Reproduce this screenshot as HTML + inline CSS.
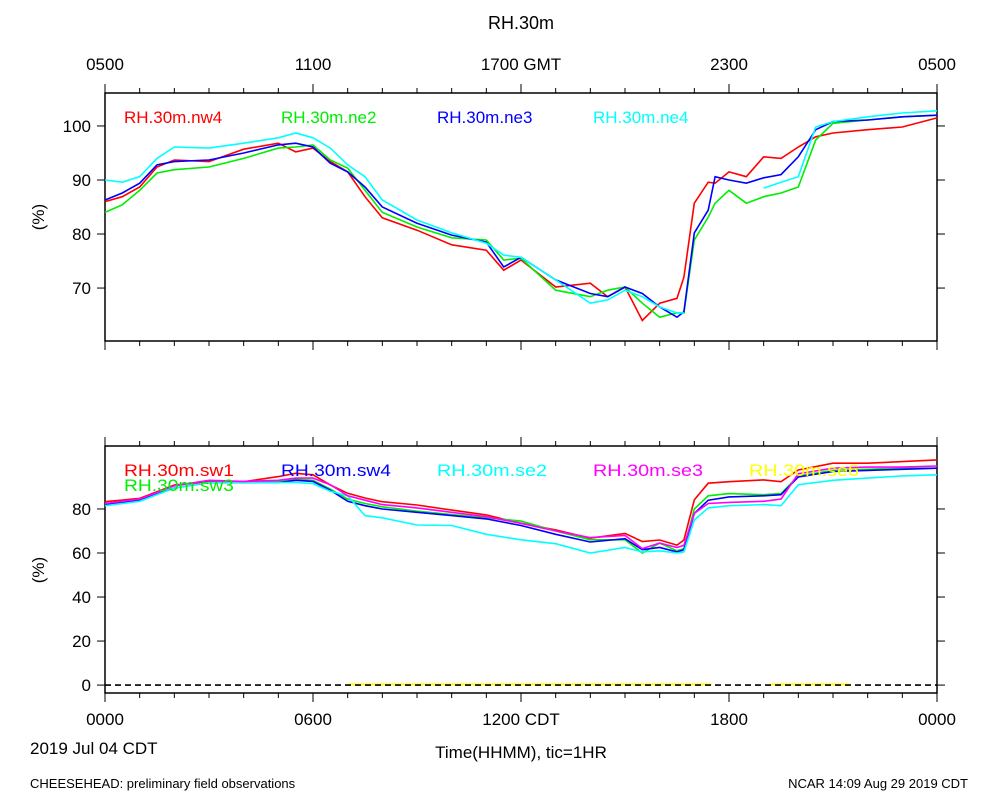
<!DOCTYPE html>
<html><head><meta charset="utf-8"><style>
body{margin:0;background:#fff}
svg{display:block;font-family:"Liberation Sans",sans-serif}
</style></head><body>
<svg id="c" width="1000" height="800" viewBox="0 0 1000 800">
<text x="521" y="29" font-size="18" text-anchor="middle">RH.30m</text>
<text x="44" y="217" font-size="17" text-anchor="middle" transform="rotate(-90 44 217)">(%)</text>
<text x="44" y="570" font-size="17" text-anchor="middle" transform="rotate(-90 44 570)">(%)</text>
<text x="30" y="754" font-size="17">2019 Jul 04 CDT</text>
<text x="521" y="758" font-size="17" text-anchor="middle">Time(HHMM), tic=1HR</text>
<text x="30" y="788" font-size="13">CHEESEHEAD: preliminary field observations</text>
<text x="968" y="788" font-size="13" text-anchor="end">NCAR 14:09 Aug 29 2019 CDT</text>
</svg>
<script>
const topHours=[0,0.5,1,1.5,2,3,4,5,5.5,6,6.5,7,7.5,8,9,10,11,11.5,12,13,14,14.5,15,15.5,16,16.5,16.7,17,17.4,17.6,18,18.5,19,19.5,20,20.5,21,22,23,24];
const nw4=[86,86.9,88.7,92.4,93.7,93.4,95.7,96.8,95.2,95.9,93.4,91.5,86.9,83,80.7,78,77,73.3,75.2,70.2,70.9,68.4,70.2,64,67.2,68.1,72,85.7,89.6,89.4,91.5,90.6,94.3,94,96.1,98,98.7,99.3,99.8,101.5];
const ne2=[84,85.4,88.1,91.3,91.9,92.4,94,95.9,96.1,96.5,93.7,92.2,88.1,84,81.3,79.3,78.9,75.2,75.5,69.6,68.4,69.6,70.2,67.2,64.6,65.4,65.4,78.9,83.1,85.7,88.1,85.7,86.9,87.6,88.7,97.4,100.5,101.1,101.7,102];
const ne3=[86.3,87.6,89.4,92.8,93.4,93.7,95,96.5,96.8,96.1,93.1,91.5,88.7,85,82,79.8,78.5,73.9,75.7,71.5,69,68.4,70.2,69,66.5,64.6,65.6,80.2,84.4,90.6,90,89.4,90.4,91,94.3,99.3,100.8,101.1,101.7,102];
const ne4=[90,89.6,90.6,94,96.1,95.9,96.8,97.8,98.7,97.8,95.9,92.8,90.6,86.3,82.6,80.2,78.3,76.1,75.7,71.5,67.2,67.8,69.6,68.4,66.5,65.4,65.4,null,null,null,null,null,88.5,89.6,90.6,99.8,100.8,101.7,102.4,102.8];
const topNames=["RH.30m.nw4","RH.30m.ne2","RH.30m.ne3","RH.30m.ne4"];
const topTicks=[70,80,90,100];
const botHours=[0,1,2,3,4,5,5.5,6,6.5,7,7.5,8,9,10,11,12,13,14,15,15.5,16,16.5,16.7,17,17.4,18,19,19.5,20,21,22,23,24];
const sw1=[83.3,84.8,90.9,92.4,92.4,94.7,96.2,95.5,90.9,87.1,85,83.3,81.8,79.5,77.3,73.5,70.5,66.7,68.9,65.2,65.9,63.6,65.9,84.1,91.7,92.4,93.2,92.4,97.7,100.8,100.8,101.5,102.3];
const sw3=[82,84,89.5,92,92,92.5,93.5,93,89,84.5,82.5,81,79,77.5,76,74.5,70,66,66,60,64.5,61,62,80,86,87,86.5,87,95,97.5,98,98.5,98.5];
const sw4=[82,84,89.5,92,92,92,93,92.5,88.5,83.5,81.5,80,78.5,77,75.5,72.5,68.5,65,66.5,61.5,62.5,60.5,61.5,78,84,85.5,86,86.5,94.5,97,97.5,98,98.5];
const se2=[81.5,83.5,89.5,92,92,92,92,91.5,88,86,77,76,72.7,72.5,68.5,66,64.2,60,62.5,60.5,61,60,60.5,75,80.5,81.5,82,81.5,91,93,94,95,95.5];
const se3=[82.5,84.5,90.5,93,92.5,93,94,94,91,86,84,82,80.5,78.5,76.5,73.5,70,67,68,62,64.5,62.5,63.5,78,82.5,83,83.5,84.5,96,98.5,99,99,99.5];
const se6Hours=[7,17.5,null,19.2,21.5];
const se6=[0.3,0.3,null,0.3,0.3];
const botNames=["RH.30m.sw1","RH.30m.sw3","RH.30m.sw4","RH.30m.se2","RH.30m.se3","RH.30m.se6"];
const botTicks=[0,20,40,60,80];
const bottomLabels=["0000","0600","1200 CDT","1800","0000"];
const topLabels=["0500","1100","1700 GMT","2300","0500"];

const NS="http://www.w3.org/2000/svg";
const svg=document.getElementById('c');
const L=105,R=937;
const xs=h=>L+(R-L)*h/24;
const P1={top:93,bot:341,min:60.2,max:106.1};
const P2={top:446,bot:693,min:-3.6,max:108.6};
const ys=(p,v)=>p.bot-(v-p.min)/(p.max-p.min)*(p.bot-p.top);
function mk(tag,attrs,parent){const e=document.createElementNS(NS,tag);for(const k in attrs)e.setAttribute(k,attrs[k]);(parent||svg).appendChild(e);return e;}
function path(p,hours,vals){let d="",pen=false;for(let i=0;i<hours.length;i++){if(vals[i]==null||hours[i]==null){pen=false;continue;}d+=(pen?"L":"M")+xs(hours[i]).toFixed(1)+" "+ys(p,vals[i]).toFixed(1);pen=true;}return d;}
function frame(p,ticks,nm){
  const g=mk('g',{});
  
  
  mk('rect',{x:L,y:p.top,width:R-L,height:p.bot-p.top,fill:'none',stroke:'#000','stroke-width':1.5},g);
  for(let h=0;h<=24;h++){const x=xs(h),len=h%6==0?9:5;
    mk('line',{x1:x,y1:p.top,x2:x,y2:p.top-len,stroke:'#000'},g);
    mk('line',{x1:x,y1:p.bot,x2:x,y2:p.bot+len,stroke:'#000'},g);}
  ticks.forEach(v=>{const y=ys(p,v);
    mk('line',{x1:L,y1:y,x2:L-8,y2:y,stroke:'#000'},g);
    mk('line',{x1:R,y1:y,x2:R+8,y2:y,stroke:'#000'},g);
    const t=mk('text',{x:L-14,y:y+6,'font-size':17,'text-anchor':'end'},g);t.textContent=v;
    
    });
}
frame(P1,topTicks,'top-panel');
frame(P2,botTicks,'bottom-panel');
topLabels.forEach((s,i)=>{const t=mk('text',{x:xs(i*6),y:70,'font-size':17,'text-anchor':'middle'});t.textContent=s;
  
  });
bottomLabels.forEach((s,i)=>{const t=mk('text',{x:xs(i*6),y:725,'font-size':17,'text-anchor':'middle'});t.textContent=s;
  
  });

const topSeries=[[nw4,'#ff0000'],[ne2,'#00ee00'],[ne3,'#0000ff'],[ne4,'#00ffff']];
const topLegX=[124,281,437,593];
topSeries.forEach((s,i)=>{const e=mk('path',{d:path(P1,topHours,s[0]),fill:'none',stroke:s[1],'stroke-width':1.6});
  
  
  const t=mk('text',{x:topLegX[i],y:123,'font-size':17,fill:s[1]});t.textContent=topNames[i];
  
  });

const y6=mk('path',{d:path(P2,se6Hours,se6),fill:'none',stroke:'#ffff00','stroke-width':2});


const z=mk('line',{x1:L,y1:ys(P2,0),x2:R,y2:ys(P2,0),stroke:'#000','stroke-width':1.6,'stroke-dasharray':'6 4'});


const botSeries=[[sw1,'#ff0000'],[sw3,'#00ee00'],[sw4,'#0000ff'],[se2,'#00ffff'],[se3,'#ff00ff']];
botSeries.forEach((s,i)=>{const e=mk('path',{d:path(P2,botHours,s[0]),fill:'none',stroke:s[1],'stroke-width':1.6});
  
  });
const botCols=['#ff0000','#00ee00','#0000ff','#00ffff','#ff00ff','#ffff00'];
const botLegX=[124,124,281,437,593,749],botLegY=[476,491,476,476,476,476];
botNames.forEach((n,i)=>{const t=mk('text',{x:botLegX[i],y:botLegY[i],'font-size':17,fill:botCols[i],textLength:110,lengthAdjust:'spacingAndGlyphs'});t.textContent=n;
  
  });
</script>
</body></html>
